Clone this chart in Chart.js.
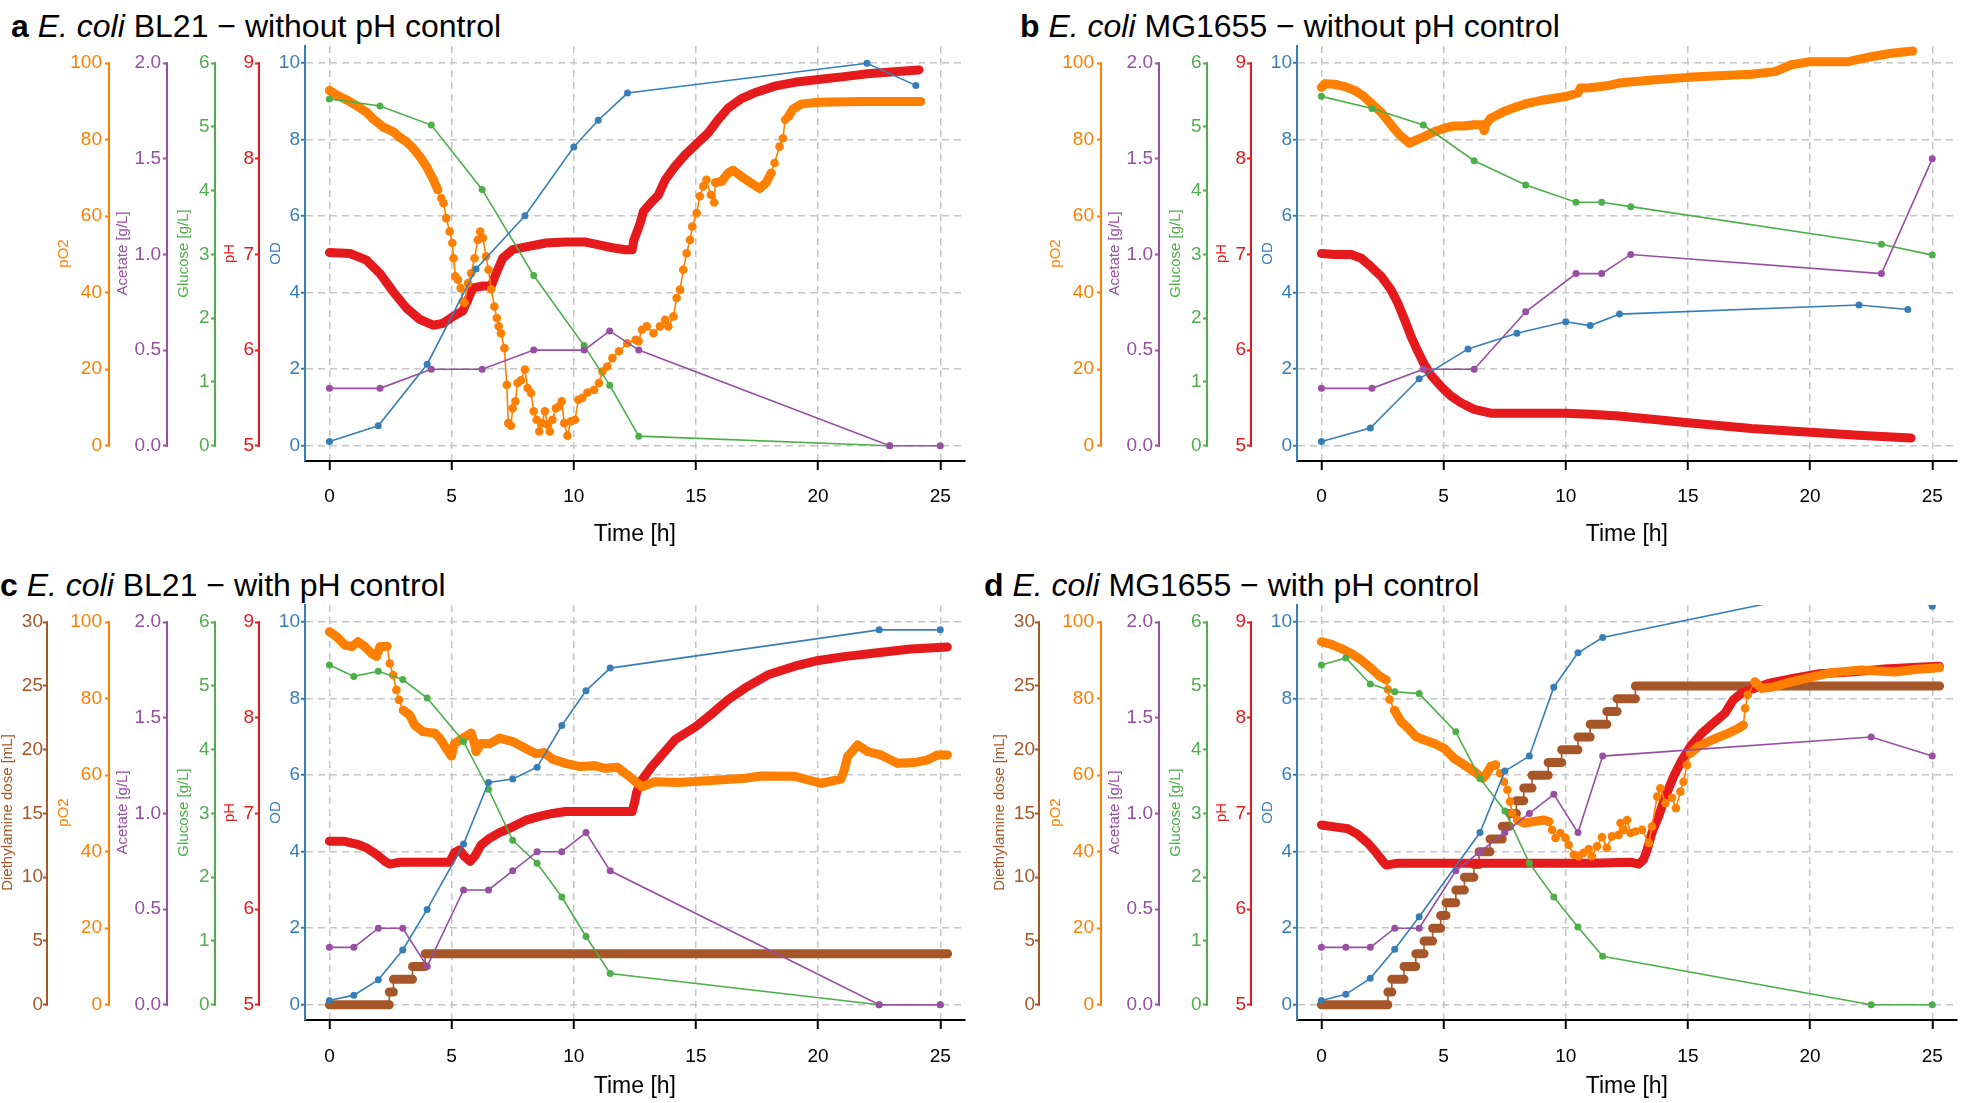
<!DOCTYPE html>
<html>
<head>
<meta charset="utf-8">
<script src="https://cdn.jsdelivr.net/npm/chart.js@4.4.1/dist/chart.umd.min.js"></script>
<style>
  html, body { margin: 0; padding: 0; background: #fff; overflow: hidden; }
  body { width: 1961px; height: 1103px; position: relative; font-family: "Liberation Sans", Arial, sans-serif; }
  canvas { position: absolute; }
  .title { position: absolute; font-size: 32px; line-height: 32px; white-space: nowrap; color: #000; }
</style>
</head>
<body>
<div class="title" style="left:11px;top:10px"><b>a</b> <i>E. coli</i> BL21 − without pH control</div>
<div class="title" style="left:1020px;top:10px"><b>b</b> <i>E. coli</i> MG1655 − without pH control</div>
<div class="title" style="left:0px;top:569px"><b>c</b> <i>E. coli</i> BL21 − with pH control</div>
<div class="title" style="left:984px;top:569px"><b>d</b> <i>E. coli</i> MG1655 − with pH control</div>

<canvas id="chartA" width="969" height="520" style="left:0;top:40px;width:969px;height:520px"></canvas>
<canvas id="chartB" width="969" height="520" style="left:992px;top:40px;width:969px;height:520px"></canvas>
<canvas id="chartC" width="969" height="504" style="left:0;top:599px;width:969px;height:504px"></canvas>
<canvas id="chartD" width="969" height="504" style="left:992px;top:599px;width:969px;height:504px"></canvas>

<script>
// tick labels
const timeTicks = [0, 5, 10, 15, 20, 25];
const odTicks = [0, 2, 4, 6, 8, 10];
const po2Ticks = [0, 20, 40, 60, 80, 100];
const acetateTicks = [0, 0.5, 1, 1.5, 2];
const glucoseTicks = [0, 1, 2, 3, 4, 5, 6];
const phTicks = [5, 6, 7, 8, 9];
const doseTicks = [0, 5, 10, 15, 20, 25, 30];

// a: BL21 without pH control
const aOdTime = [0, 2, 4, 6, 8, 10, 11, 12.2, 22, 24];
const aOd = [0.11, 0.52, 2.13, 4.62, 6.01, 7.81, 8.51, 9.22, 10.0, 9.42];
const aSampleTime = [0, 2.07, 4.17, 6.25, 8.36, 10.42, 11.47, 12.66, 22.93, 25];
const aGlucose = [5.44, 5.33, 5.03, 4.02, 2.67, 1.57, 0.95, 0.15, 0];
const aAcetate = [0.30, 0.30, 0.40, 0.40, 0.50, 0.50, 0.60, 0.50, 0, 0];
const aPhTime = [
  0, 0.84, 1.52, 2.07, 2.61, 3.15, 3.7, 4.24, 4.65, 5.05,
  5.46, 5.67, 5.87, 6.28, 6.62, 6.82, 7.09, 7.5, 8.04, 8.86,
  9.67, 10.49, 11.03, 11.58, 12.12, 12.39, 12.46, 12.58, 12.72, 12.85,
  13.19, 13.46, 13.74, 14.14, 14.55, 15, 15.5, 15.91, 16.32, 16.86,
  17.4, 18.22, 19.04, 20.01, 21.07, 22.02, 23.11, 24.13];
const aPh = [
  7.02, 7.01, 6.94, 6.80, 6.61, 6.44, 6.32, 6.26, 6.28, 6.35,
  6.41, 6.53, 6.65, 6.67, 6.67, 6.80, 6.96, 7.05, 7.08, 7.12,
  7.13, 7.13, 7.10, 7.07, 7.05, 7.05, 7.15, 7.23, 7.33, 7.45,
  7.55, 7.62, 7.78, 7.92, 8.04, 8.15, 8.27, 8.41, 8.53, 8.63,
  8.69, 8.76, 8.80, 8.83, 8.86, 8.89, 8.91, 8.93];
const aPo2Time = [
  0, 0.3, 0.71, 1.11, 1.52, 1.79, 2.2, 2.61, 2.88, 3.15,
  3.42, 3.7, 3.97, 4.24, 4.44, 4.58, 4.67, 4.78, 4.92, 5.03,
  5.08, 5.15, 5.26, 5.37, 5.46, 5.53, 5.67, 5.8, 5.94, 6.07,
  6.17, 6.28, 6.41, 6.51, 6.62, 6.75, 6.85, 6.93, 7.02, 7.16,
  7.26, 7.32, 7.43, 7.5, 7.61, 7.7, 7.84, 8.0, 8.11, 8.25,
  8.36, 8.48, 8.59, 8.7, 8.82, 8.93, 9.02, 9.13, 9.27, 9.4,
  9.51, 9.61, 9.74, 9.88, 10.05, 10.19, 10.35, 10.56, 10.83, 11.03,
  11.17, 11.37, 11.58, 11.85, 12.19, 12.53, 12.65, 12.79, 12.99, 13.26,
  13.53, 13.74, 13.87, 14.08, 14.21, 14.35, 14.48, 14.62, 14.76, 14.85,
  15.03, 15.16, 15.3, 15.43, 15.61, 15.75, 15.8, 16.05, 16.32, 16.52,
  16.86, 17.27, 17.61, 17.88, 18.08, 18.22, 18.42, 18.56, 18.65, 18.79,
  18.97, 19.31, 19.99, 21.75, 24.2];
const aPo2 = [
  92.9, 91.7, 90.4, 88.9, 87.2, 85.4, 83.3, 82.1, 80.6, 79.5,
  77.8, 75.6, 73.0, 69.7, 66.9, 64.7, 63.4, 59.5, 56.0, 53.0,
  49.0, 44.3, 43.4, 41.2, 37.7, 37.3, 42.5, 45.1, 49.0, 53.8,
  56.0, 54.3, 49.5, 46.0, 40.9, 36.4, 33.4, 31.2, 29.4, 25.5,
  15.9, 5.9, 5.2, 9.8, 11.6, 16.4, 17.1, 19.9, 15.1, 13.8,
  9.0, 6.8, 3.7, 5.9, 9.0, 5.5, 3.7, 6.8, 9.8, 10.3,
  11.6, 5.9, 2.6, 6.4, 6.8, 12.0, 12.5, 13.9, 14.6, 16.4,
  19.4, 20.7, 22.9, 24.7, 26.8, 27.7, 27.3, 30.3, 31.2, 29.4,
  31.2, 32.9, 31.2, 33.8, 38.6, 40.8, 46.0, 50.3, 53.8, 57.3,
  60.8, 65.2, 67.8, 69.5, 65.6, 63.6, 68.8, 69.1, 71.3, 72.0,
  70.4, 68.6, 67.3, 68.8, 71.3, 73.9, 78.2, 80.4, 85.2, 86.1,
  88.0, 89.3, 89.8, 90.0, 90.0];
const aPo2Bands = [[0, 4.5], [15.78, 18.2], [18.75, 24.3]];

// b: MG1655 without pH control
const bOdTime = [0, 2, 4, 6, 8, 10, 11, 12.2, 22, 24];
const bOd = [0.11, 0.46, 1.75, 2.53, 2.94, 3.24, 3.14, 3.44, 3.68, 3.56];
const bSampleTime = [0, 2.07, 4.17, 6.25, 8.36, 10.42, 11.47, 12.66, 22.92, 25];
const bGlucose = [5.48, 5.29, 5.03, 4.47, 4.09, 3.82, 3.82, 3.75, 3.16, 2.99];
const bAcetate = [0.30, 0.30, 0.40, 0.40, 0.70, 0.90, 0.90, 1.00, 0.90, 1.50];
const bPhTime = [
  0, 0.54, 1.22, 1.63, 2.04, 2.45, 2.85, 3.13, 3.4, 3.67,
  3.94, 4.21, 4.48, 4.89, 5.3, 5.71, 6.25, 6.93, 7.74, 9.1,
  10, 11, 12.17, 15, 17.6, 20, 21.96, 24.13];
const bPh = [
  7.01, 7.00, 7.00, 6.96, 6.87, 6.77, 6.63, 6.49, 6.32, 6.14,
  5.99, 5.85, 5.74, 5.62, 5.52, 5.45, 5.38, 5.34, 5.34, 5.34,
  5.34, 5.33, 5.31, 5.24, 5.18, 5.14, 5.11, 5.08];
const bPo2Time = [
  0, 0.14, 0.54, 0.95, 1.36, 1.7, 2.04, 2.45, 2.85, 3.19,
  3.6, 3.87, 4.21, 4.62, 5.03, 5.43, 5.84, 6.25, 6.6, 6.66,
  6.72, 6.93, 7.47, 8.02, 8.42, 9.1, 10, 10.49, 10.6, 11,
  11.68, 12.17, 13.53, 15, 16.25, 17.6, 18.56, 19.24, 20, 21.55,
  22.5, 23.32, 24.2];
const bPo2 = [
  93.7, 94.6, 94.5, 93.9, 92.9, 91.5, 89.5, 87.1, 83.9, 81.3,
  79.1, 79.9, 80.8, 82.1, 83.0, 83.6, 83.6, 83.9, 83.9, 82.4,
  83.9, 85.6, 87.4, 88.7, 89.5, 90.4, 91.3, 92.2, 93.5, 93.6,
  94.1, 94.8, 95.6, 96.3, 96.7, 97.1, 97.8, 99.6, 100.4, 100.4,
  101.7, 102.6, 103.2];
const bPo2Bands = [[0, 25]];

// c: BL21 with pH control
const cSampleTime = [0, 1, 2, 3, 4, 5.49, 6.51, 7.5, 8.5, 9.51, 10.5, 11.49, 22.5, 25];
const cOd = [0.11, 0.25, 0.65, 1.43, 2.49, 4.20, 5.81, 5.90, 6.21, 7.30, 8.21, 8.80, 9.80, 9.80];
const cGlucose = [5.33, 5.15, 5.23, 5.10, 4.81, 4.13, 3.38, 2.58, 2.22, 1.69, 1.07, 0.49, 0, 0];
const cAcetate = [0.30, 0.30, 0.40, 0.40, 0.20, 0.60, 0.60, 0.70, 0.80, 0.80, 0.90, 0.70, 0, 0];
const cDoseTime = [0, 2.45, 2.62, 3.40, 3.92, 25.3];
const cDose = [0, 1, 2, 3, 4];
const cPhTime = [
  0, 0.57, 1.11, 1.52, 1.93, 2.27, 2.47, 2.88, 3.56, 4.24,
  4.92, 5.12, 5.33, 5.53, 5.76, 5.94, 6.21, 6.55, 6.96, 7.5,
  8.04, 8.59, 9.13, 9.67, 10.49, 11.3, 12.39, 12.51, 12.58, 12.79,
  13.19, 13.6, 14.14, 15, 15.64, 16.32, 17.0, 17.95, 19.04, 20.01,
  21.07, 22.43, 23.79, 25.29];
const cPh = [
  6.71, 6.71, 6.68, 6.64, 6.57, 6.50, 6.47, 6.49, 6.49, 6.49,
  6.49, 6.59, 6.62, 6.55, 6.50, 6.55, 6.67, 6.74, 6.80, 6.86,
  6.93, 6.97, 7.00, 7.02, 7.02, 7.02, 7.02, 7.14, 7.23, 7.35,
  7.49, 7.61, 7.77, 7.91, 8.04, 8.19, 8.31, 8.45, 8.54, 8.60,
  8.64, 8.68, 8.72, 8.74];
const cPo2Time = [
  0, 0.3, 0.64, 0.91, 1.18, 1.45, 1.73, 1.93, 2.07, 2.36,
  2.47, 2.61, 2.74, 2.85, 3.02, 3.29, 3.49, 3.83, 4.31, 4.51,
  4.78, 4.99, 5.12, 5.46, 5.8, 5.94, 6.0, 6.21, 6.55, 6.96,
  7.5, 8.04, 8.45, 8.79, 9.13, 9.67, 10.22, 10.83, 11.3, 11.78,
  12.19, 12.53, 12.79, 13.33, 14.28, 15.64, 17.0, 17.68, 19.04, 20.12,
  20.94, 21.07, 21.21, 21.62, 22.02, 22.57, 23.25, 23.93, 24.47, 24.88,
  25.29];
const cPo2 = [
  97.5, 96.2, 94.0, 93.6, 94.9, 93.6, 91.8, 91.1, 93.6, 93.7,
  89.2, 86.2, 82.3, 79.7, 77.0, 75.7, 73.1, 71.4, 71.0, 69.7,
  67.0, 65.0, 68.3, 69.7, 71.0, 68.3, 66.2, 68.3, 68.2, 69.7,
  68.8, 67.0, 65.6, 65.9, 64.2, 63.1, 62.3, 62.5, 61.8, 62.1,
  60.1, 58.3, 57.0, 58.3, 58.1, 58.6, 59.2, 59.8, 59.7, 57.9,
  59.0, 61.4, 64.9, 67.9, 66.2, 65.3, 63.1, 63.3, 64.0, 65.3,
  65.3];
const cPo2Bands = [[0, 2.4], [2.95, 25.3]];

// d: MG1655 with pH control
const dOdTime = [0, 1, 2, 3, 4, 6.49, 7.51, 8.51, 9.51, 10.5, 11.51, 22.5, 25];
const dOd = [0.11, 0.27, 0.69, 1.45, 2.30, 4.50, 6.11, 6.50, 8.30, 9.20, 9.60, 11.05, 10.42];
const dSampleTime = [0, 1, 2, 3, 4, 5.5, 6.49, 7.51, 8.51, 9.51, 10.5, 11.51, 22.5, 25];
const dGlucose = [5.33, 5.44, 5.03, 4.91, 4.88, 4.28, 3.55, 3.04, 2.22, 1.69, 1.22, 0.76, 0, 0];
const dAcetate = [0.30, 0.30, 0.30, 0.40, 0.40, 0.70, 0.80, 0.90, 1.00, 1.10, 0.90, 1.30, 1.40, 1.30];
const dDoseTime = [
  0, 2.72, 2.88, 3.38, 3.86, 4.2, 4.55, 4.88, 5.1, 5.5,
  5.85, 6.24, 6.45, 6.9, 7.4, 7.7, 7.98, 8.28, 8.62, 9.28,
  9.83, 10.5, 11.0, 11.68, 12.1, 12.85, 25.3];
const dDose = [
  0, 1, 2, 3, 4, 5, 6, 7, 8, 9,
  10, 11, 12, 13, 14, 15, 16, 17, 18, 19,
  20, 21, 22, 23, 24, 25];
const dPhTime = [
  0, 0.54, 1.09, 1.49, 1.9, 2.24, 2.51, 2.65, 3.13, 5,
  7, 9, 11, 12.64, 12.99, 13.19, 13.33, 13.53, 13.8, 14.08,
  14.42, 14.76, 15.1, 15.57, 16.11, 16.52, 16.86, 17.2, 17.61, 18.29,
  19.24, 20.33, 21.68, 23.04, 24.4, 25.29];
const dPh = [
  6.88, 6.86, 6.84, 6.78, 6.69, 6.59, 6.50, 6.46, 6.48, 6.48,
  6.48, 6.48, 6.48, 6.49, 6.47, 6.52, 6.62, 6.80, 6.97, 7.18,
  7.39, 7.56, 7.70, 7.84, 7.96, 8.05, 8.19, 8.26, 8.30, 8.36,
  8.41, 8.46, 8.48, 8.51, 8.53, 8.54];
const dPo2Time = [
  0, 0.41, 0.82, 1.22, 1.63, 2.04, 2.38, 2.65, 2.72, 2.79,
  2.99, 3.26, 3.53, 3.87, 4.21, 4.62, 5.03, 5.43, 5.84, 6.25,
  6.59, 6.73, 6.93, 7.13, 7.31, 7.47, 7.61, 7.72, 7.81, 8.02,
  8.29, 8.7, 9.1, 9.31, 9.44, 9.58, 9.78, 9.99, 10.12, 10.33,
  10.53, 10.73, 10.94, 11.07, 11.28, 11.48, 11.68, 11.89, 12.16, 12.24,
  12.38, 12.51, 12.65, 12.85, 13.12, 13.4, 13.53, 13.74, 13.87, 14.08,
  14.35, 14.51, 14.69, 14.82, 14.96, 15.1, 15.43, 15.98, 16.66, 17.07,
  17.27, 17.34, 17.45, 17.74, 18.02, 18.42, 19.24, 20, 20.87, 22.09,
  23.45, 24.4, 25.29];
const dPo2 = [
  94.9, 94.2, 93.1, 91.8, 90.1, 87.9, 85.9, 84.9, 82.4, 79.8,
  77.0, 74.0, 72.4, 70.1, 69.2, 68.3, 67.0, 64.4, 62.7, 61.0,
  59.2, 60.1, 62.3, 62.7, 60.5, 58.3, 56.2, 53.1, 50.1, 48.3,
  47.5, 47.9, 48.3, 47.9, 45.7, 43.6, 44.9, 43.6, 41.8, 39.2,
  38.8, 39.7, 40.7, 38.8, 41.4, 43.8, 41.0, 44.0, 44.4, 47.5,
  45.7, 48.3, 44.9, 45.3, 45.7, 42.3, 46.6, 54.4, 56.6, 52.7,
  54.1, 51.4, 55.7, 58.3, 62.7, 65.7, 67.5, 69.2, 71.0, 72.3,
  73.1, 77.5, 81.0, 84.4, 82.7, 83.0, 84.4, 85.6, 86.8, 87.5,
  87.0, 87.7, 88.1];
const dPo2Bands = [[0, 2.68], [2.95, 7.25], [8.0, 9.35], [15.05, 17.3], [17.7, 25.3]];

const C = {
  od: '#377EB8', po2: '#FF7F00', acetate: '#984EA3',
  glucose: '#4DAF4A', ph: '#E41A1C', dose: '#A65628'
};
const GRID = '#c6c6c6';
const OD_RANGE = [-0.4, 10.45];

Chart.defaults.font.family = '"Liberation Sans", Arial, Helvetica, sans-serif';

// every y axis is tied to the OD axis: value = base + k * OD
const axisSpecs = {
  dose:    { color: C.dose, title: 'Diethylamine dose [mL]', ticks: doseTicks, base: 0, k: 3, width: 48, titlePad: 0.5, labelPad: 0, weight: 5, dec: 0 },
  po2:     { color: C.po2, title: 'pO2', ticks: po2Ticks, base: 0, k: 10, width: 62, titlePad: 8.5, labelPad: 3, weight: 4, dec: 0 },
  acetate: { color: C.acetate, title: 'Acetate [g/L]', ticks: acetateTicks, base: 0, k: 0.2, width: 58, titlePad: 5, labelPad: 2, weight: 3, dec: 1 },
  glucose: { color: C.glucose, title: 'Glucose [g/L]', ticks: glucoseTicks, base: 0, k: 0.6, width: 48, titlePad: 8.5, labelPad: 1.5, weight: 2, dec: 0 },
  ph:      { color: C.ph, title: 'pH', ticks: phTicks, base: 5, k: 0.4, width: 44, titlePad: 6.5, labelPad: 1, weight: 1, dec: 0 },
  od:      { color: C.od, title: 'OD', ticks: odTicks, base: 0, k: 1, width: 45, titlePad: 8, labelPad: 1, weight: 0, dec: 0 }
};

// secondary axes only draw their line between the first and last tick
const axisLines = {
  id: 'axisLines',
  afterDraw(chart) {
    const ctx = chart.ctx;
    Object.keys(axisSpecs).forEach(id => {
      const s = chart.scales[id];
      if (!s || id === 'od') return;
      const t = axisSpecs[id].ticks;
      ctx.save();
      ctx.strokeStyle = axisSpecs[id].color;
      ctx.lineWidth = 2;
      ctx.beginPath();
      ctx.moveTo(s.right - 1, s.getPixelForValue(t[0]) + 1);
      ctx.lineTo(s.right - 1, s.getPixelForValue(t[t.length - 1]) - 1);
      ctx.stroke();
      ctx.restore();
    });
  }
};

function yScale(id) {
  const s = axisSpecs[id];
  const isOd = id === 'od';
  return {
    type: 'linear', position: 'left', weight: s.weight,
    min: s.base + s.k * OD_RANGE[0], max: s.base + s.k * OD_RANGE[1],
    afterBuildTicks: sc => { sc.ticks = s.ticks.map(v => ({ value: v })); },
    afterFit: sc => { sc.width = s.width; sc.paddingTop = 0; sc.paddingBottom = 0; },
    ticks: { color: s.color, font: { size: 19 }, padding: s.labelPad, callback: v => v.toFixed(s.dec) },
    grid: isOd
      ? { color: GRID, lineWidth: 1.5, tickColor: s.color, tickWidth: 2, tickLength: 4, tickBorderDash: [] }
      : { drawOnChartArea: false, color: s.color, tickColor: s.color, tickWidth: 2, tickLength: 5, tickBorderDash: [] },
    border: isOd ? { display: true, color: s.color, width: 2, dash: [7, 5] } : { display: false },
    title: { display: true, text: s.title, color: s.color, font: { size: 15, lineHeight: 1 }, padding: { top: s.titlePad, bottom: 0 } }
  };
}

function xScale(height, labelPad, titlePad) {
  return {
    type: 'linear', position: 'bottom', min: -1, max: 26,
    afterBuildTicks: sc => { sc.ticks = timeTicks.map(v => ({ value: v })); },
    afterFit: sc => { sc.height = height; sc.paddingLeft = 0; sc.paddingRight = 0; },
    ticks: { color: '#000', font: { size: 19 }, padding: labelPad, maxRotation: 0, autoSkip: false },
    grid: { color: GRID, lineWidth: 1.5, tickColor: '#000', tickWidth: 2, tickLength: 9, tickBorderDash: [] },
    border: { display: true, color: '#000', width: 2, dash: [7, 5] },
    title: { display: true, text: 'Time [h]', color: '#000', font: { size: 23, lineHeight: 1 }, padding: { top: 0, bottom: titlePad } }
  };
}

function zip(ts, vs) {
  return vs.map((v, i) => ({ x: ts[i], y: v }));
}

function sampleSet(ts, vs, color, axis) {
  return {
    data: zip(ts, vs), yAxisID: axis, borderColor: color, backgroundColor: color,
    borderWidth: 1.6, pointRadius: 3.5, pointBorderWidth: 0, pointBackgroundColor: color
  };
}

function po2Set(ts, vs, bands) {
  const data = zip(ts, vs);
  const inBand = t => bands.some(b => t >= b[0] && t <= b[1]);
  return {
    data, yAxisID: 'po2', borderColor: C.po2, backgroundColor: C.po2,
    borderWidth: 1.6, pointRadius: 4.3, pointBorderWidth: 0, pointBackgroundColor: C.po2,
    borderCapStyle: 'round', borderJoinStyle: 'round',
    segment: {
      borderWidth: c => (inBand(data[c.p0DataIndex].x) && inBand(data[c.p1DataIndex].x)) ? 9 : 1.6
    }
  };
}

function phSet(ts, vs) {
  return {
    data: zip(ts, vs), yAxisID: 'ph', borderColor: C.ph, backgroundColor: C.ph,
    borderWidth: 9, pointRadius: 0, borderCapStyle: 'round', borderJoinStyle: 'round'
  };
}

function doseSet(starts, levels) {
  const data = [];
  levels.forEach((v, i) => { data.push({ x: starts[i], y: v }, { x: starts[i + 1], y: v }); });
  return {
    data, yAxisID: 'dose', borderColor: C.dose, backgroundColor: C.dose,
    borderWidth: 1.6, pointRadius: 0, borderCapStyle: 'round', borderJoinStyle: 'round',
    segment: {
      borderWidth: c => data[c.p0DataIndex].y === data[c.p1DataIndex].y ? 9 : 1.6
    }
  };
}

function panel(canvasId, datasets, withDose, top) {
  const scales = top ? { x: xScale(99, 15.5, 13.5) } : { x: xScale(83, 16.5, 5) };
  const ids = withDose ? ['dose', 'po2', 'acetate', 'glucose', 'ph', 'od'] : ['po2', 'acetate', 'glucose', 'ph', 'od'];
  ids.forEach(id => { scales[id] = yScale(id); });
  new Chart(document.getElementById(canvasId), {
    type: 'line',
    data: { datasets },
    options: {
      responsive: false, devicePixelRatio: 1, animation: false, events: [],
      layout: { padding: { left: withDose ? 0 : 48, top: 6, right: 2, bottom: 0 } },
      plugins: { legend: { display: false }, tooltip: { enabled: false } },
      scales
    },
    plugins: [axisLines]
  });
}

panel('chartA', [
  sampleSet(aOdTime, aOd, C.od, 'od'),
  sampleSet(aSampleTime, aAcetate, C.acetate, 'acetate'),
  sampleSet(aSampleTime, aGlucose, C.glucose, 'glucose'),
  po2Set(aPo2Time, aPo2, aPo2Bands),
  phSet(aPhTime, aPh)
], false, true);

panel('chartB', [
  sampleSet(bOdTime, bOd, C.od, 'od'),
  sampleSet(bSampleTime, bAcetate, C.acetate, 'acetate'),
  sampleSet(bSampleTime, bGlucose, C.glucose, 'glucose'),
  po2Set(bPo2Time, bPo2, bPo2Bands),
  phSet(bPhTime, bPh)
], false, true);

panel('chartC', [
  sampleSet(cSampleTime, cOd, C.od, 'od'),
  sampleSet(cSampleTime, cAcetate, C.acetate, 'acetate'),
  sampleSet(cSampleTime, cGlucose, C.glucose, 'glucose'),
  po2Set(cPo2Time, cPo2, cPo2Bands),
  phSet(cPhTime, cPh),
  doseSet(cDoseTime, cDose)
], true, false);

panel('chartD', [
  sampleSet(dOdTime, dOd, C.od, 'od'),
  sampleSet(dSampleTime, dAcetate, C.acetate, 'acetate'),
  sampleSet(dSampleTime, dGlucose, C.glucose, 'glucose'),
  po2Set(dPo2Time, dPo2, dPo2Bands),
  phSet(dPhTime, dPh),
  doseSet(dDoseTime, dDose)
], true, false);
</script>
</body>
</html>
